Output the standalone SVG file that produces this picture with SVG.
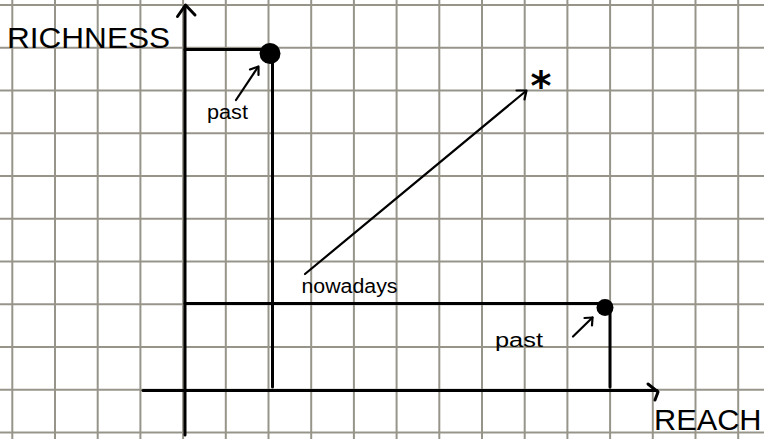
<svg xmlns="http://www.w3.org/2000/svg" width="764" height="439" viewBox="0 0 764 439">
<style>
.grid line{stroke:#97958a;stroke-width:2}
.ln{stroke:#000;stroke-width:3;fill:none;stroke-linecap:round;stroke-linejoin:round}
.thin{stroke:#000;stroke-width:2.2;fill:none;stroke-linecap:round;stroke-linejoin:round}
.lbl{font-family:"Liberation Sans",Arial,sans-serif;fill:#000}
.hand{font-family:"Liberation Sans",Arial,sans-serif;fill:#000}
</style>
<rect width="764" height="439" fill="#fff"/>
<g class="grid" id="grid">
<line x1="12.3" y1="0" x2="12.3" y2="439"/>
<line x1="55" y1="0" x2="55" y2="439"/>
<line x1="97.7" y1="0" x2="97.7" y2="439"/>
<line x1="140.4" y1="0" x2="140.4" y2="439"/>
<line x1="183.1" y1="0" x2="183.1" y2="439"/>
<line x1="225.8" y1="0" x2="225.8" y2="439"/>
<line x1="268.5" y1="0" x2="268.5" y2="439"/>
<line x1="311.2" y1="0" x2="311.2" y2="439"/>
<line x1="353.9" y1="0" x2="353.9" y2="439"/>
<line x1="396.6" y1="0" x2="396.6" y2="439"/>
<line x1="439.3" y1="0" x2="439.3" y2="439"/>
<line x1="482" y1="0" x2="482" y2="439"/>
<line x1="524.7" y1="0" x2="524.7" y2="439"/>
<line x1="567.4" y1="0" x2="567.4" y2="439"/>
<line x1="610.1" y1="0" x2="610.1" y2="439"/>
<line x1="652.8" y1="0" x2="652.8" y2="439"/>
<line x1="695.5" y1="0" x2="695.5" y2="439"/>
<line x1="738.2" y1="0" x2="738.2" y2="439"/>
<line x1="0" y1="5" x2="764" y2="5"/>
<line x1="0" y1="47.75" x2="764" y2="47.75"/>
<line x1="0" y1="90.5" x2="764" y2="90.5"/>
<line x1="0" y1="133.25" x2="764" y2="133.25"/>
<line x1="0" y1="176" x2="764" y2="176"/>
<line x1="0" y1="218.75" x2="764" y2="218.75"/>
<line x1="0" y1="261.5" x2="764" y2="261.5"/>
<line x1="0" y1="304.25" x2="764" y2="304.25"/>
<line x1="0" y1="347" x2="764" y2="347"/>
<line x1="0" y1="389.75" x2="764" y2="389.75"/>
<line x1="0" y1="432.5" x2="764" y2="432.5"/>
</g>
<g id="connectors">
<path class="ln" d="M185,435 L185,6"/>
<path class="ln" d="M177.5,16.5 L185.5,5 L195,15"/>
<path class="ln" d="M143,390.5 L657,390.5"/>
<path class="ln" d="M648,384 L658,392 L655,400"/>
<path class="ln" d="M185,49.5 L268,49.5"/>
<path class="ln" d="M272.5,55 L272.5,387"/>
<path class="ln" d="M185,303.5 L604,303.5"/>
<path class="ln" d="M610,308 L610,387"/>
<path class="thin" d="M305,274 L526,91"/>
<path class="thin" d="M516.5,90.5 L526.5,90.5 L524.5,99.5"/>
<path class="thin" d="M236,100 L258,67"/>
<path class="thin" d="M250,69.5 L258.5,66.5 L258.5,75"/>
<path class="thin" d="M573,336.5 L592.5,317.5"/>
<path class="thin" d="M584.5,318 L592.5,317.5 L592,325.5"/>
</g>
<g id="past-top">
<circle cx="270" cy="53.5" r="10.5" fill="#000"/>
<text class="hand" x="207" y="119" font-size="20" textLength="41" lengthAdjust="spacingAndGlyphs">past</text>
</g>
<g id="past-bottom">
<circle cx="605" cy="307.5" r="8.5" fill="#000"/>
<text class="hand" x="495" y="347" font-size="20" textLength="48" lengthAdjust="spacingAndGlyphs">past</text>
</g>
<g id="nowadays">
<text class="hand" x="301.5" y="293" font-size="20" textLength="96" lengthAdjust="spacingAndGlyphs">nowadays</text>
</g>
<g id="star">
<text x="541" y="100" font-size="40" font-weight="bold" text-anchor="middle" font-family="'DejaVu Sans',sans-serif">*</text>
</g>
<g id="richness">
<text class="lbl" x="7" y="48.3" font-size="29" textLength="163" lengthAdjust="spacingAndGlyphs">RICHNESS</text>
</g>
<g id="reach">
<text class="lbl" x="654" y="430" font-size="29" textLength="107.5" lengthAdjust="spacingAndGlyphs">REACH</text>
</g>
</svg>
